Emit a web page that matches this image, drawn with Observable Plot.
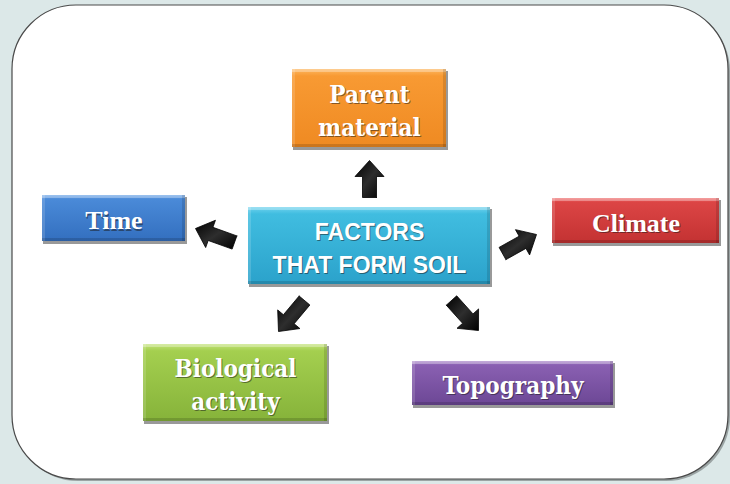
<!DOCTYPE html>
<html><head><meta charset="utf-8">
<script src="https://cdn.jsdelivr.net/npm/d3@7"></script>
<script src="https://cdn.jsdelivr.net/npm/@observablehq/plot@0.6"></script>
<style>html,body{margin:0;padding:0;background:#dce8e8;overflow:hidden}</style>
</head><body><div id="chart"></div>
<script>
// ---- content ----
const hubKey = "hub";
const hubLabel = "FACTORS\nTHAT FORM SOIL";
const factorKeys = ["parent", "time", "climate", "bio", "topo"];
const factorLabels = ["Parent\nmaterial", "Time", "Climate", "Biological\nactivity", "Topography"];
const factorFont = ["condensed", "serif", "serif", "condensed", "condensed"];

// ---- diagram geometry (px) ----
const boxLayout = {
  hub:     {x1: 248, x2: 490, y1: 207, y2: 284},
  parent:  {x1: 292, x2: 446, y1: 69,  y2: 147},
  time:    {x1: 42,  x2: 185, y1: 195, y2: 241},
  climate: {x1: 552, x2: 719, y1: 198, y2: 243},
  bio:     {x1: 143, x2: 327, y1: 344, y2: 421},
  topo:    {x1: 412, x2: 613, y1: 361, y2: 405}
};
const arrowLayout = {
  parent:  {tail: [369, 197], tip: [369, 160]},
  time:    {tail: [234, 242], tip: [195, 228]},
  climate: {tail: [502, 253], tip: [536, 234]},
  bio:     {tail: [304, 300], tip: [278, 331]},
  topo:    {tail: [451, 300], tip: [478, 330]}
};
const gradients = {
  hub:     ["#6fd2ee", "#40bde0", "#2ba2cb"],
  parent:  ["#fdb760", "#f89a33", "#ef8a22"],
  time:    ["#71a8e8", "#4a8ad8", "#336fbf"],
  climate: ["#f07474", "#dc4545", "#c33232"],
  bio:     ["#c4e37a", "#a4cf4f", "#86b33a"],
  topo:    ["#ab88cb", "#8a60b2", "#6c4795"]
};

const nodes = [
  {key: hubKey, label: hubLabel, font: "sans", ...boxLayout[hubKey]},
  ...factorKeys.map((k, i) => ({key: k, label: factorLabels[i], font: factorFont[i], ...boxLayout[k]}))
].map(d => ({...d, cx: (d.x1 + d.x2) / 2, cy: (d.y1 + d.y2) / 2, grad: `url(#g-${d.key})`}));

function arrowPolygon(key) {
  const {tail: T, tip: P} = arrowLayout[key];
  const dx = P[0] - T[0], dy = P[1] - T[1], L = Math.hypot(dx, dy);
  const ux = dx / L, uy = dy / L, nx = -uy, ny = ux;
  const sw = 7, hw = 14.5, hl = 16;
  const H = [P[0] - ux * hl, P[1] - uy * hl];
  const pts = [
    [T[0] + nx * sw, T[1] + ny * sw], [H[0] + nx * sw, H[1] + ny * sw], [H[0] + nx * hw, H[1] + ny * hw],
    P, [H[0] - nx * hw, H[1] - ny * hw], [H[0] - nx * sw, H[1] - ny * sw], [T[0] - nx * sw, T[1] - ny * sw],
    [T[0] + nx * sw, T[1] + ny * sw]
  ];
  return pts.map(([x, y]) => ({id: key, x, y}));
}
const arrows = factorKeys.flatMap(arrowPolygon);

const panel = [{x1: 12, x2: 728, y1: 5, y2: 479}];

const defs = () => {
  const d = d3.create("svg:defs");
  for (const [k, c] of Object.entries(gradients)) {
    const g = d.append("linearGradient").attr("id", `g-${k}`).attr("x1", 0).attr("y1", 0).attr("x2", 0).attr("y2", 1);
    g.append("stop").attr("offset", "0%").attr("stop-color", c[0]);
    g.append("stop").attr("offset", "9%").attr("stop-color", c[1]);
    g.append("stop").attr("offset", "100%").attr("stop-color", c[2]);
  }
  const a = d.append("linearGradient").attr("id", "g-arrow").attr("x1", 0).attr("y1", 0).attr("x2", 1).attr("y2", 1);
  a.append("stop").attr("offset", "0%").attr("stop-color", "#000");
  a.append("stop").attr("offset", "50%").attr("stop-color", "#2e2e2e");
  a.append("stop").attr("offset", "100%").attr("stop-color", "#000");
  d.append("filter").attr("id", "blur3").attr("x", "-20%").attr("y", "-20%").attr("width", "140%").attr("height", "140%")
    .append("feGaussianBlur").attr("stdDeviation", 3);
  d.append("filter").attr("id", "blur1").attr("x", "-20%").attr("y", "-20%").attr("width", "140%").attr("height", "140%")
    .append("feGaussianBlur").attr("stdDeviation", 1.5);
  d.append("filter").attr("id", "blurT").attr("x", "-20%").attr("y", "-20%").attr("width", "140%").attr("height", "140%")
    .append("feGaussianBlur").attr("stdDeviation", 0.8);
  return d.node();
};

const textMarks = (font, family, size, lh) => [
  Plot.text(nodes, {filter: d => d.font === font, x: "cx", y: "cy", text: "label", fill: "#1a1a1a", fillOpacity: 0.5,
    dx: 1, dy: 1.2, fontFamily: family, fontWeight: "bold", fontSize: size, lineHeight: lh, ariaLabel: "tshadow"}),
  Plot.text(nodes, {filter: d => d.font === font, x: "cx", y: "cy", text: "label", fill: "white",
    fontFamily: family, fontWeight: "bold", fontSize: size, lineHeight: lh})
];

const chart = Plot.plot({
  width: 730, height: 484, margin: 0,
  x: {domain: [0, 730], range: [0, 730], axis: null},
  y: {domain: [0, 484], range: [0, 484], axis: null},
  color: {type: "identity"},
  style: {background: "#dce8e8", overflow: "hidden"},
  marks: [
    defs,
    Plot.rect(panel, {x1: d => d.x1 + 2, x2: d => d.x2 + 2, y1: d => d.y1 + 2, y2: d => d.y2 + 2, rx: 64, fill: "#6f7777", fillOpacity: 0.6, ariaLabel: "pshadow"}),
    Plot.rect(panel, {x1: "x1", x2: "x2", y1: "y1", y2: "y2", rx: 64, fill: "white", stroke: "#4a4a4a", strokeWidth: 1.2}),
    Plot.rect(nodes, {x1: d => d.x1 + 1, x2: d => d.x2 + 2, y1: d => d.y1 + 2, y2: d => d.y2 + 3, fill: "#000", fillOpacity: 0.4, ariaLabel: "bshadow"}),
    Plot.rect(nodes, {x1: "x1", x2: "x2", y1: "y1", y2: "y2", fill: "grad"}),
    Plot.rect(nodes, {x1: "x1", x2: "x2", y1: "y1", y2: d => d.y1 + 3, fill: "white", fillOpacity: 0.3}),
    Plot.rect(nodes, {x1: "x1", x2: d => d.x1 + 3, y1: "y1", y2: "y2", fill: "white", fillOpacity: 0.15}),
    Plot.rect(nodes, {x1: d => d.x2 - 3, x2: "x2", y1: "y1", y2: "y2", fill: "black", fillOpacity: 0.12}),
    Plot.rect(nodes, {x1: "x1", x2: "x2", y1: d => d.y2 - 3, y2: "y2", fill: "black", fillOpacity: 0.15}),
    Plot.line(arrows, {x: "x", y: "y", z: "id", fill: "url(#g-arrow)", stroke: "#000", strokeWidth: 0.8, curve: "linear"}),
    ...textMarks("sans", "'Liberation Sans', Arial, sans-serif", 23, 1.43),
    ...textMarks("serif", "'Liberation Serif', 'Times New Roman', serif", 26, 1.3),
    ...textMarks("condensed", "'DejaVu Serif Condensed', 'Liberation Serif', serif", 24, 1.38)
  ]
});
const svg = d3.select(chart);
svg.selectAll('g[aria-label="pshadow"]').attr("filter", "url(#blur3)");
svg.selectAll('g[aria-label="bshadow"]').attr("filter", "url(#blur1)");
svg.selectAll('g[aria-label="tshadow"]').attr("filter", "url(#blurT)");
svg.selectAll("text").style("font-stretch", "condensed");
document.getElementById("chart").append(chart);
</script>
</body></html>
